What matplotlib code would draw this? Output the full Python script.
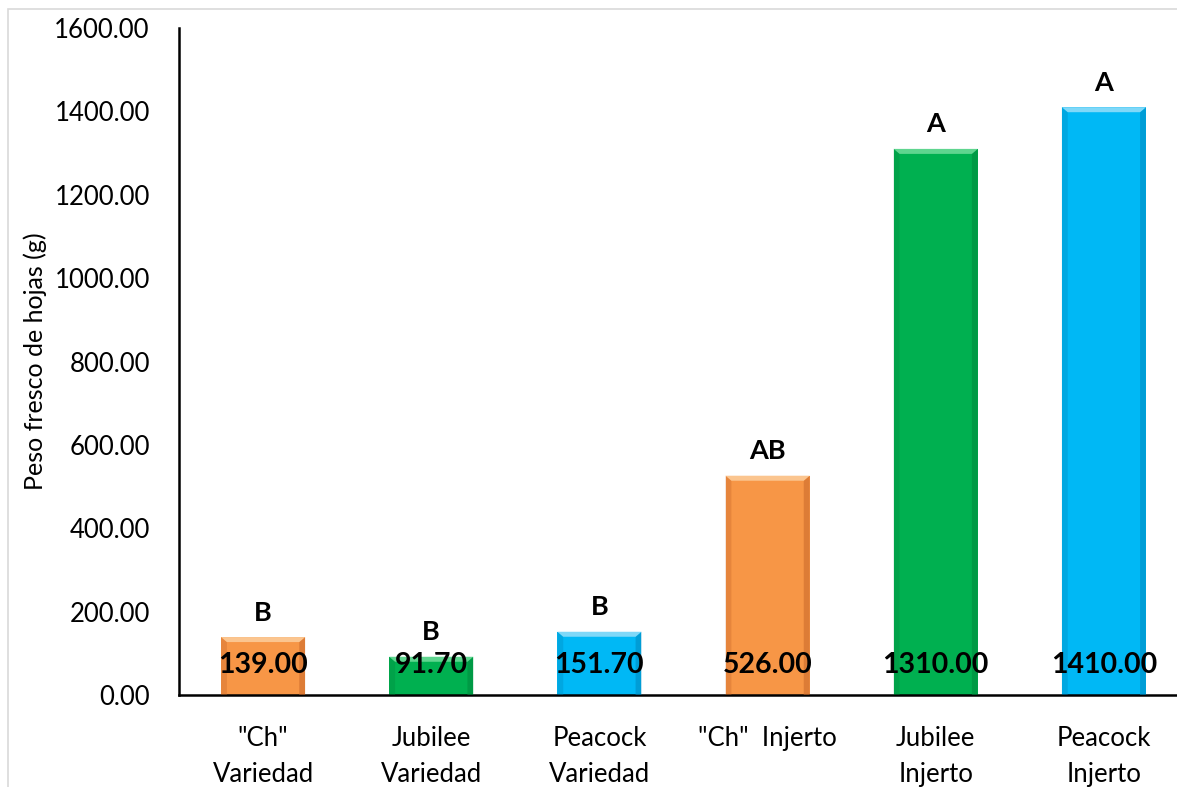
import matplotlib.pyplot as plt
from matplotlib.patches import Rectangle, Polygon

categories = ['"Ch"\nVariedad', 'Jubilee\nVariedad', 'Peacock\nVariedad',
              '"Ch"  Injerto', 'Jubilee\nInjerto', 'Peacock\nInjerto']
values = [139.00, 91.70, 151.70, 526.00, 1310.00, 1410.00]
letters = ['B', 'B', 'B', 'AB', 'A', 'A']
colors = ['#F79646', '#00B050', '#00B8F5', '#F79646', '#00B050', '#00B8F5']
dark = ['#C8672A', '#00893D', '#0088BE', '#C8672A', '#00893D', '#0088BE']
light = ['#FBC58F', '#5FD58F', '#7FD8F8', '#FBC58F', '#5FD58F', '#7FD8F8']

plt.rcParams['font.family'] = ['Lato', 'DejaVu Sans']

fig = plt.figure(figsize=[11.77, 7.87], dpi=100)
ax = fig.add_axes([179 / 1177, 1 - 695 / 787, (1177 - 179) / 1177, (695 - 28) / 787])

# light frame around the chart area
fig.patches.append(Rectangle((8 / 1177, -0.05), 1.2, (787 - 9) / 787 + 0.05,
                             transform=fig.transFigure, fill=False,
                             edgecolor='#D9D9D9', linewidth=1.2))

w = 0.5
bars = ax.bar(range(len(values)), values, width=w, color=colors,
              edgecolor='none', zorder=2)

# simple bevel: darker sides, lighter top strip
for i, v in enumerate(values):
    e = 0.035
    t = min(12, v * 0.3)
    ax.add_patch(Polygon([[i - w / 2, 0], [i - w / 2, v], [i - w / 2 + e, v - t],
                          [i - w / 2 + e, 0]], color=dark[i], alpha=0.35, lw=0, zorder=3))
    ax.add_patch(Polygon([[i + w / 2, 0], [i + w / 2, v], [i + w / 2 - e, v - t],
                          [i + w / 2 - e, 0]], color=dark[i], alpha=0.55, lw=0, zorder=3))
    ax.add_patch(Polygon([[i - w / 2, v], [i + w / 2, v], [i + w / 2 - e, v - t],
                          [i - w / 2 + e, v - t]], color=light[i], lw=0, zorder=3))

for i, v in enumerate(values):
    ax.text(i, 72, f'{v:.2f}', ha='center', va='center', fontsize=20.5,
            fontweight='bold', color='black', zorder=4)
    ax.annotate(letters[i], (i, v), xytext=(0, 9), textcoords='offset points',
                ha='center', va='bottom', fontsize=19.5, fontweight='bold')

ax.set_ylim(0, 1600)
ax.set_xlim(-0.5, 5.5 - 11 / 168.3)
ax.set_yticks(range(0, 1601, 200))
ax.set_yticklabels([f'{t:.2f}' for t in range(0, 1601, 200)], fontsize=18.5)
ax.set_xticks(range(len(categories)))
ax.set_xticklabels(categories, fontsize=18.5, linespacing=1.55)
ax.tick_params(axis='both', length=0)
ax.tick_params(axis='x', pad=22)
ax.tick_params(axis='y', pad=21)
ax.set_ylabel('Peso fresco de hojas (g)', fontsize=18, labelpad=5)

for s in ['top', 'right']:
    ax.spines[s].set_visible(False)
ax.spines['left'].set_linewidth(1.8)
ax.spines['bottom'].set_linewidth(1.8)

plt.savefig('out.png', dpi=100)
